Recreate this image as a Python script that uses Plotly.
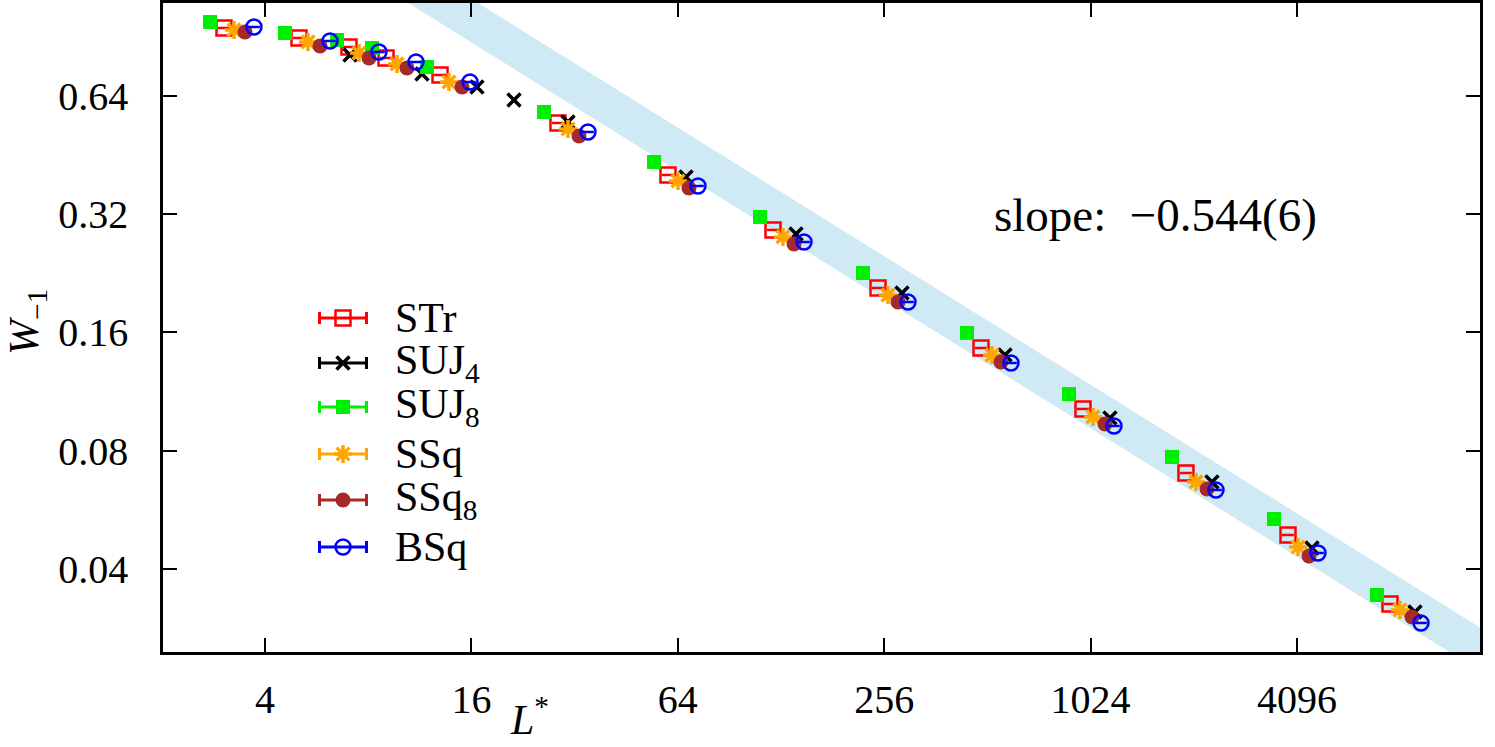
import plotly.graph_objects as go

# ---- data ------------------------------------------------------------------
L_STR = [3.037, 5.026, 7.032, 9.016, 12.96, 28.62, 59.92, 121.3, 245.6, 490.5, 973.1, 1943, 3856, 7650]
W_STR = [0.9535, 0.8991, 0.8529, 0.7997, 0.7239, 0.5463, 0.4028, 0.2918, 0.2077, 0.1461, 0.1022, 0.07021, 0.04882, 0.03258]

L_SUJ4 = [7.080, 11.48, 16.61, 21.30, 30.61, 67.63, 141.6, 288.6, 576.3, 1166, 2314, 4530, 9048]
W_SUJ4 = [0.8138, 0.7281, 0.6747, 0.6252, 0.5495, 0.3981, 0.2850, 0.2017, 0.1402, 0.09694, 0.06661, 0.04524, 0.03109]

L_SUJ8 = [2.765, 4.575, 6.489, 8.206, 11.87, 26.06, 54.54, 111.2, 222.0, 446.4, 885.7, 1769, 3509, 7009]
W_SUJ8 = [0.9876, 0.9259, 0.8887, 0.8480, 0.7586, 0.5827, 0.4347, 0.3149, 0.2268, 0.1596, 0.1115, 0.07713, 0.05361, 0.03434]

L_SSQ = [3.248, 5.340, 7.521, 9.708, 13.76, 30.61, 64.08, 129.7, 262.6, 528.1, 1041, 2078, 4124, 8181]
W_SSQ = [0.9423, 0.8783, 0.8234, 0.7720, 0.6947, 0.5274, 0.3889, 0.2801, 0.1993, 0.1402, 0.09753, 0.06661, 0.04550, 0.03146]

L_SSQ8 = [3.497, 5.788, 8.043, 10.38, 15.02, 32.96, 69.0, 139.7, 280.9, 560.9, 1128, 2238, 4440, 8867]
W_SSQ8 = [0.9313, 0.8580, 0.7997, 0.7541, 0.6747, 0.5062, 0.3732, 0.2688, 0.1913, 0.1346, 0.09357, 0.06393, 0.04317, 0.03019]

L_BSQ = [3.715, 6.190, 8.602, 11.03, 15.85, 35.01, 73.3, 149.4, 300.4, 600.0, 1198, 2377, 4717, 9421]
W_BSQ = [0.9590, 0.8835, 0.8283, 0.7811, 0.6947, 0.5183, 0.3776, 0.2719, 0.1913, 0.1338, 0.09249, 0.06356, 0.04393, 0.02915]

# power-law fit  W = A * L^slope, shaded band = A*f^{+-1}
FIT_SLOPE = -0.544
FIT_AMP = 4.50
BAND_FACTOR = 1.136
BAND_L = [2.0, 14000.0]

X_TICKS = [4, 16, 64, 256, 1024, 4096]
Y_TICKS = [0.04, 0.08, 0.16, 0.32, 0.64]
Y_TICK_TEXT = ["0.04", "0.08", "0.16", "0.32", "0.64"]

# name, L, W, colour, symbol, size, line width, x-errorbar (%)
SERIES = [
    ("STr", L_STR, W_STR, "#ff0000", "square-open", 15, 2.5, 4),
    ("SUJ<sub>4</sub>", L_SUJ4, W_SUJ4, "#000000", "x-thin-open", 13, 3.5, 0),
    ("SUJ<sub>8</sub>", L_SUJ8, W_SUJ8, "#00ee00", "square", 14, 0, 0),
    ("SSq", L_SSQ, W_SSQ, "#ffa500", "asterisk-open", 15, 3.5, 0),
    ("SSq<sub>8</sub>", L_SSQ8, W_SSQ8, "#a52a2a", "circle", 15, 0, 0),
    ("BSq", L_BSQ, W_BSQ, "#0000ff", "circle-open", 15, 2.5, 4),
]

FONT = "Liberation Serif"
W_PX, H_PX = 1495, 747
M_L, M_R, M_T, M_B = 163, 15, 3, 95
PW = W_PX - M_L - M_R
PH = H_PX - M_T - M_B


def px_to_paper(px, py):
    return (px - M_L) / PW, (H_PX - M_B - py) / PH


fig = go.Figure()

# fit band
band_hi = [FIT_AMP * BAND_FACTOR * l ** FIT_SLOPE for l in BAND_L]
band_lo = [FIT_AMP / BAND_FACTOR * l ** FIT_SLOPE for l in BAND_L]
fig.add_trace(go.Scatter(
    x=BAND_L + BAND_L[::-1], y=band_hi + band_lo[::-1],
    fill="toself", fillcolor="#d0eaf5", line=dict(width=0),
    mode="lines", hoverinfo="skip", showlegend=False,
))

for name, xs, ys, col, sym, size, lw, xerr in SERIES:
    fig.add_trace(go.Scatter(
        x=xs, y=ys, mode="markers", name=name, showlegend=False,
        marker=dict(symbol=sym, size=size, color=col,
                    line=dict(width=lw, color=col)),
        error_x=dict(type="percent", value=xerr, width=0, thickness=2.5,
                     color=col, visible=xerr > 0),
    ))

# hand-made legend (gnuplot style: errorbar + marker)
leg_rows = [318, 363, 407, 454, 500, 547]
leg_x, _ = px_to_paper(343, 0)
leg_half = 23.5 / PW
txt_x, _ = px_to_paper(393, 0)
annotations = []
for (name, xs, ys, col, sym, size, lw, xerr), row in zip(SERIES, leg_rows):
    _, ly = px_to_paper(0, row)
    fig.add_trace(go.Scatter(
        x=[leg_x], y=[ly], xaxis="x2", yaxis="y2", mode="markers",
        showlegend=False, hoverinfo="skip",
        marker=dict(symbol=sym, size=size, color=col,
                    line=dict(width=lw, color=col)),
        error_x=dict(type="constant", value=leg_half, width=6,
                     thickness=3, color=col),
    ))
    annotations.append(dict(
        text=name, x=txt_x, y=ly, xref="paper", yref="paper",
        xanchor="left", yanchor="middle", showarrow=False,
        font=dict(family=FONT, size=42, color="black"),
    ))

sx, sy = px_to_paper(1155, 215)
annotations.append(dict(
    text="slope:  \u22120.544(6)", x=sx, y=sy, xref="paper", yref="paper",
    xanchor="center", yanchor="middle", showarrow=False,
    font=dict(family=FONT, size=47, color="black"),
))
tx, ty = px_to_paper(27, 322)
annotations.append(dict(
    text="<i>W</i><sub>\u22121</sub>", x=tx, y=ty, xref="paper", yref="paper",
    xanchor="center", yanchor="middle", textangle=-90, showarrow=False,
    font=dict(family=FONT, size=42, color="black"),
))
tx, ty = px_to_paper(529, 716)
annotations.append(dict(
    text="<i>L</i><sup>*</sup>", x=tx, y=ty, xref="paper", yref="paper",
    xanchor="center", yanchor="middle", showarrow=False,
    font=dict(family=FONT, size=42, color="black"),
))

axis_common = dict(
    showline=True, linecolor="black", linewidth=2.5, mirror="allticks",
    ticks="inside", ticklen=14, tickwidth=2, tickcolor="black",
    showgrid=False, zeroline=False, automargin=False,
    tickfont=dict(family=FONT, size=40, color="black"),
)

fig.update_layout(
    width=W_PX, height=H_PX,
    margin=dict(l=M_L, r=M_R, t=M_T, b=M_B, autoexpand=False),
    paper_bgcolor="white", plot_bgcolor="white",
    showlegend=False,
    xaxis=dict(type="log", range=[0.3045, 4.1462], tickvals=X_TICKS,
               ticktext=[str(v) for v in X_TICKS], ticklabelstandoff=10,
               **axis_common),
    yaxis=dict(type="log", range=[-1.6093, 0.0429], tickvals=Y_TICKS,
               ticktext=Y_TICK_TEXT, ticklabelstandoff=24, **axis_common),
    xaxis2=dict(overlaying="x", range=[0, 1], visible=False),
    yaxis2=dict(overlaying="y", range=[0, 1], visible=False),
    annotations=annotations,
)

# the page body has a default 8px margin; drop it so the figure fills the window
fig.write_html("out.html", config={"displayModeBar": False},
               post_script="document.body.style.margin='0';")
